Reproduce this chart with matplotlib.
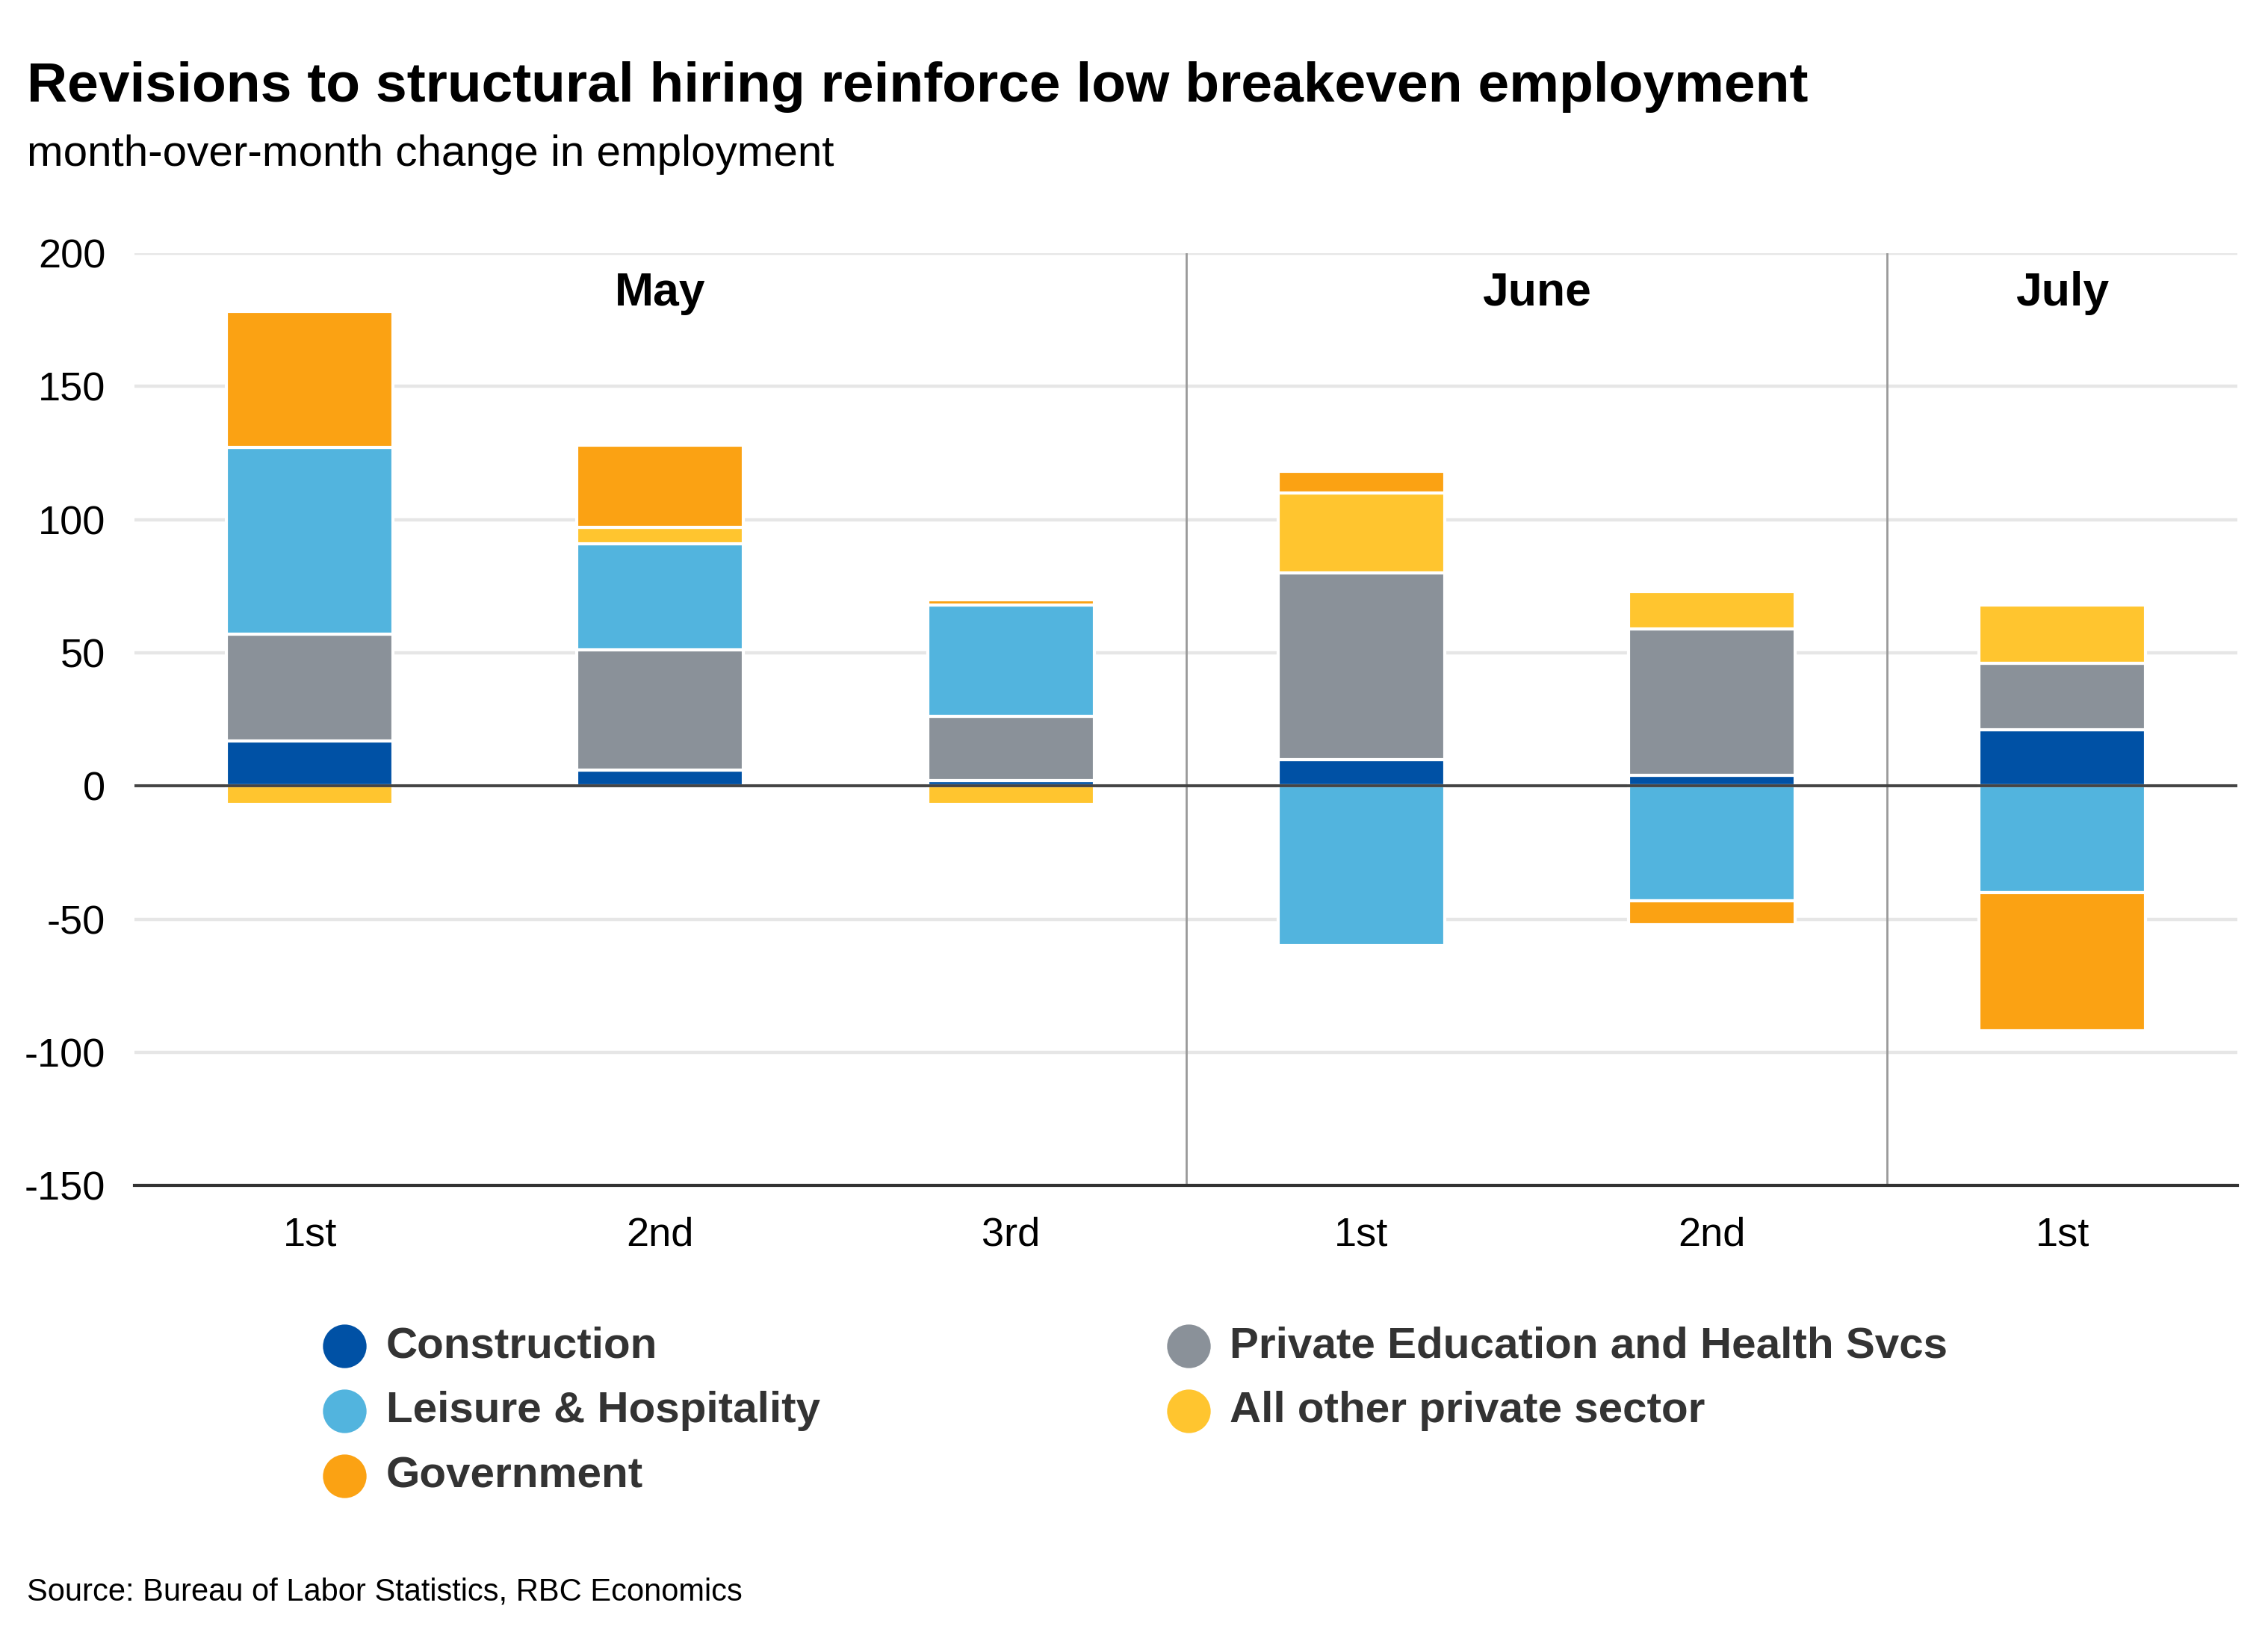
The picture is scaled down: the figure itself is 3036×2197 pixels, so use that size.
import matplotlib.pyplot as plt
from matplotlib.lines import Line2D
import numpy as np

plt.rcParams['font.family'] = ['Liberation Sans', 'DejaVu Sans']
plt.rcParams['axes.unicode_minus'] = False

weeks = ["1st", "2nd", "3rd", "1st", "2nd", "1st"]
months = ["May", "June", "July"]
month_centers = [1, 3.5, 5]

construction = [17, 6, 2, 10, 4, 21]
private_ed = [40, 45, 24, 70, 55, 25]
leisure = [70, 40, 42, -60, -43, -40]
other_private = [-7, 6, -7, 30, 14, 22]
government = [51, 31, 2, 8, -9, -52]

series = [
    ("Construction", construction, "#0051a5"),
    ("Private Education and Health Svcs", private_ed, "#8a9199"),
    ("Leisure & Hospitality", leisure, "#52b4de"),
    ("All other private sector", other_private, "#ffc52f"),
    ("Government", government, "#fba213"),
]

fig = plt.figure(figsize=(15.18, 10.985), dpi=200)
ax = fig.add_axes([0.0593, 0.2775, 0.9273, 0.5683])

x = np.arange(len(weeks))
pos_base = np.zeros(len(weeks))
neg_base = np.zeros(len(weeks))
for name, vals, color in series:
    vals = np.array(vals, dtype=float)
    bottoms = np.where(vals >= 0, pos_base, neg_base)
    ax.bar(x, vals, width=0.475, bottom=bottoms, color=color,
           edgecolor="white", linewidth=1.5, zorder=3)
    pos_base += np.where(vals > 0, vals, 0)
    neg_base += np.where(vals < 0, vals, 0)

ax.set_xlim(-0.5, 5.5)
ax.set_ylim(-150, 200)
ax.set_yticks(np.arange(-150, 201, 50))
ax.set_xticks(x)
ax.set_xticklabels(weeks)
ax.tick_params(axis="both", length=0, labelsize=19.5, colors="black")
ax.tick_params(axis="x", pad=15)
ax.tick_params(axis="y", pad=14)

ax.grid(axis="y", color="#e6e6e6", linewidth=1.6, zorder=0)
ax.set_axisbelow(True)
for s in ["top", "right", "left"]:
    ax.spines[s].set_visible(False)
ax.spines["bottom"].set_color("#333333")
ax.spines["bottom"].set_linewidth(1.5)

ax.axhline(0, color="#444444", linewidth=1.4, zorder=4)
for sep in [2.5, 4.5]:
    ax.axvline(sep, color="#999999", linewidth=1.0, zorder=2)

for m, c in zip(months, month_centers):
    ax.text(c, 185, m, ha="center", va="center", fontsize=22.5,
            fontweight="bold", color="black")

fig.text(0.012, 0.938, "Revisions to structural hiring reinforce low breakeven employment",
         fontsize=27, fontweight="bold", color="black", va="baseline")
fig.text(0.012, 0.899, "month-over-month change in employment",
         fontsize=21, color="black", va="baseline")
fig.text(0.012, 0.025, "Source: Bureau of Labor Statistics, RBC Economics",
         fontsize=15, color="black", va="baseline")

# legend laid out by hand: two columns
legend_pos = [
    (0, 0), (1, 0), (0, 1), (1, 1), (0, 2),
]
col_marker = [0.1518, 0.5242]
col_text = [0.1703, 0.5421]
row_y = [0.1797, 0.1401, 0.1004]
for i, (col, row) in enumerate(legend_pos):
    name, _, color = series[i]
    fig.add_artist(Line2D([col_marker[col]], [row_y[row]], marker="o",
                          markersize=20, color=color, linestyle="none",
                          transform=fig.transFigure))
    fig.text(col_text[col], row_y[row], name, fontsize=21, fontweight="bold",
             color="#333333", va="center")

fig.savefig("out.png", dpi=200)
